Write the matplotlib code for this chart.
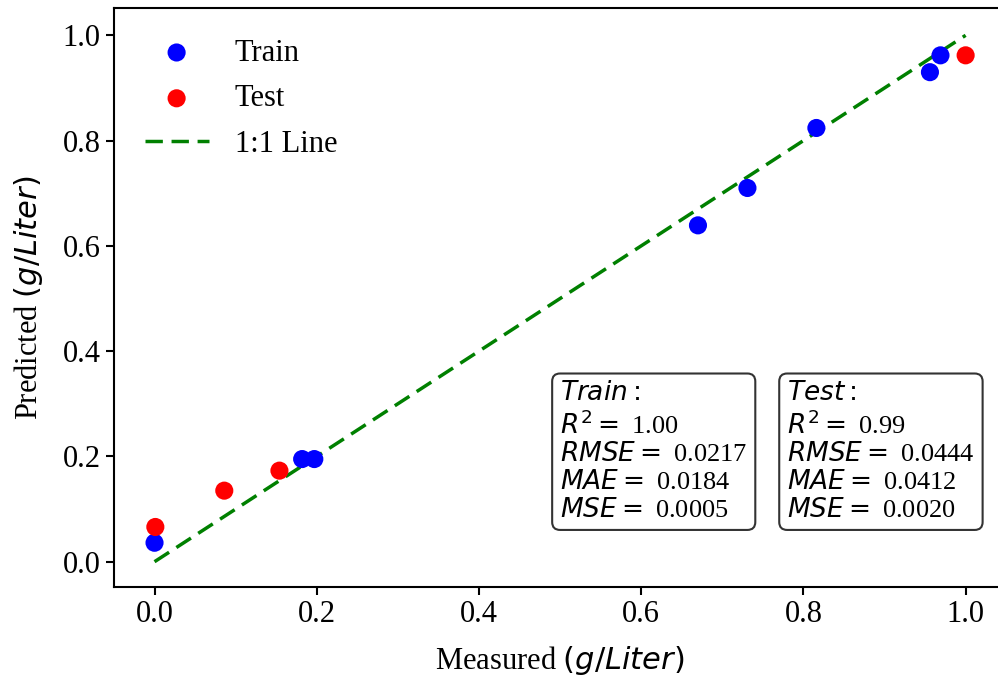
import matplotlib
matplotlib.use("Agg")
import matplotlib.pyplot as plt

plt.rcParams["font.family"] = ["Liberation Serif", "DejaVu Serif"]
plt.rcParams["mathtext.fontset"] = "dejavusans"

# measured vs predicted (g/Liter)
train_measured = [0.000, 0.182, 0.197, 0.670, 0.731, 0.816, 0.956, 0.969]
train_predicted = [0.036, 0.195, 0.195, 0.639, 0.710, 0.824, 0.930, 0.962]
test_measured = [0.001, 0.086, 0.154, 1.000]
test_predicted = [0.066, 0.135, 0.173, 0.962]

train_stats = ["1.00", "0.0217", "0.0184", "0.0005"]
test_stats = ["0.99", "0.0444", "0.0412", "0.0020"]
stat_names = [r"$R^2 = $", r"$RMSE = $", r"$MAE = $", r"$MSE = $"]


def stats_text(title, values):
    lines = [rf"${title}:$"]
    for name, val in zip(stat_names, values):
        lines.append(f"{name} {val}")
    return "\n".join(lines)


fig = plt.figure(figsize=(9.98, 6.8), dpi=100)
ax = fig.add_axes([0.1142, 0.1368, 0.894, 0.8515])

ax.scatter(train_measured, train_predicted, s=170, color="blue", edgecolors="none",
           label="Train", zorder=3)
ax.scatter(test_measured, test_predicted, s=170, color="red", edgecolors="none",
           label="Test", zorder=3)
ax.plot([0, 1], [0, 1], color="green", linestyle=(0, (5, 2.5)), linewidth=2.5,
        label="1:1 Line", zorder=2)

ax.set_xlim(-0.05, 1.05)
ax.set_ylim(-0.048, 1.052)
ax.set_xticks([0.0, 0.2, 0.4, 0.6, 0.8, 1.0])
ax.set_yticks([0.0, 0.2, 0.4, 0.6, 0.8, 1.0])
ax.tick_params(labelsize=22, width=1.5, length=6)
for sp in ax.spines.values():
    sp.set_linewidth(1.5)

ax.set_xlabel(r"Measured $(g/Liter)$", fontsize=22, labelpad=11)
ax.set_ylabel(r"Predicted $(g/Liter)$", fontsize=22, labelpad=13)

ax.legend(loc="upper left", frameon=False, fontsize=22, handlelength=2.1,
          handletextpad=0.85, labelspacing=0.55, borderaxespad=0.6)

box = dict(boxstyle="round,pad=0.3", facecolor="white", edgecolor="#333333", linewidth=1.5)
ax.text(0.500, 0.355, stats_text("Train", train_stats), transform=ax.transAxes,
        fontsize=19, va="top", ha="left", bbox=box, linespacing=1.2)
ax.text(0.7545, 0.355, stats_text("Test", test_stats), transform=ax.transAxes,
        fontsize=19, va="top", ha="left", bbox=box, linespacing=1.2)

fig.savefig("out.png", dpi=100)
